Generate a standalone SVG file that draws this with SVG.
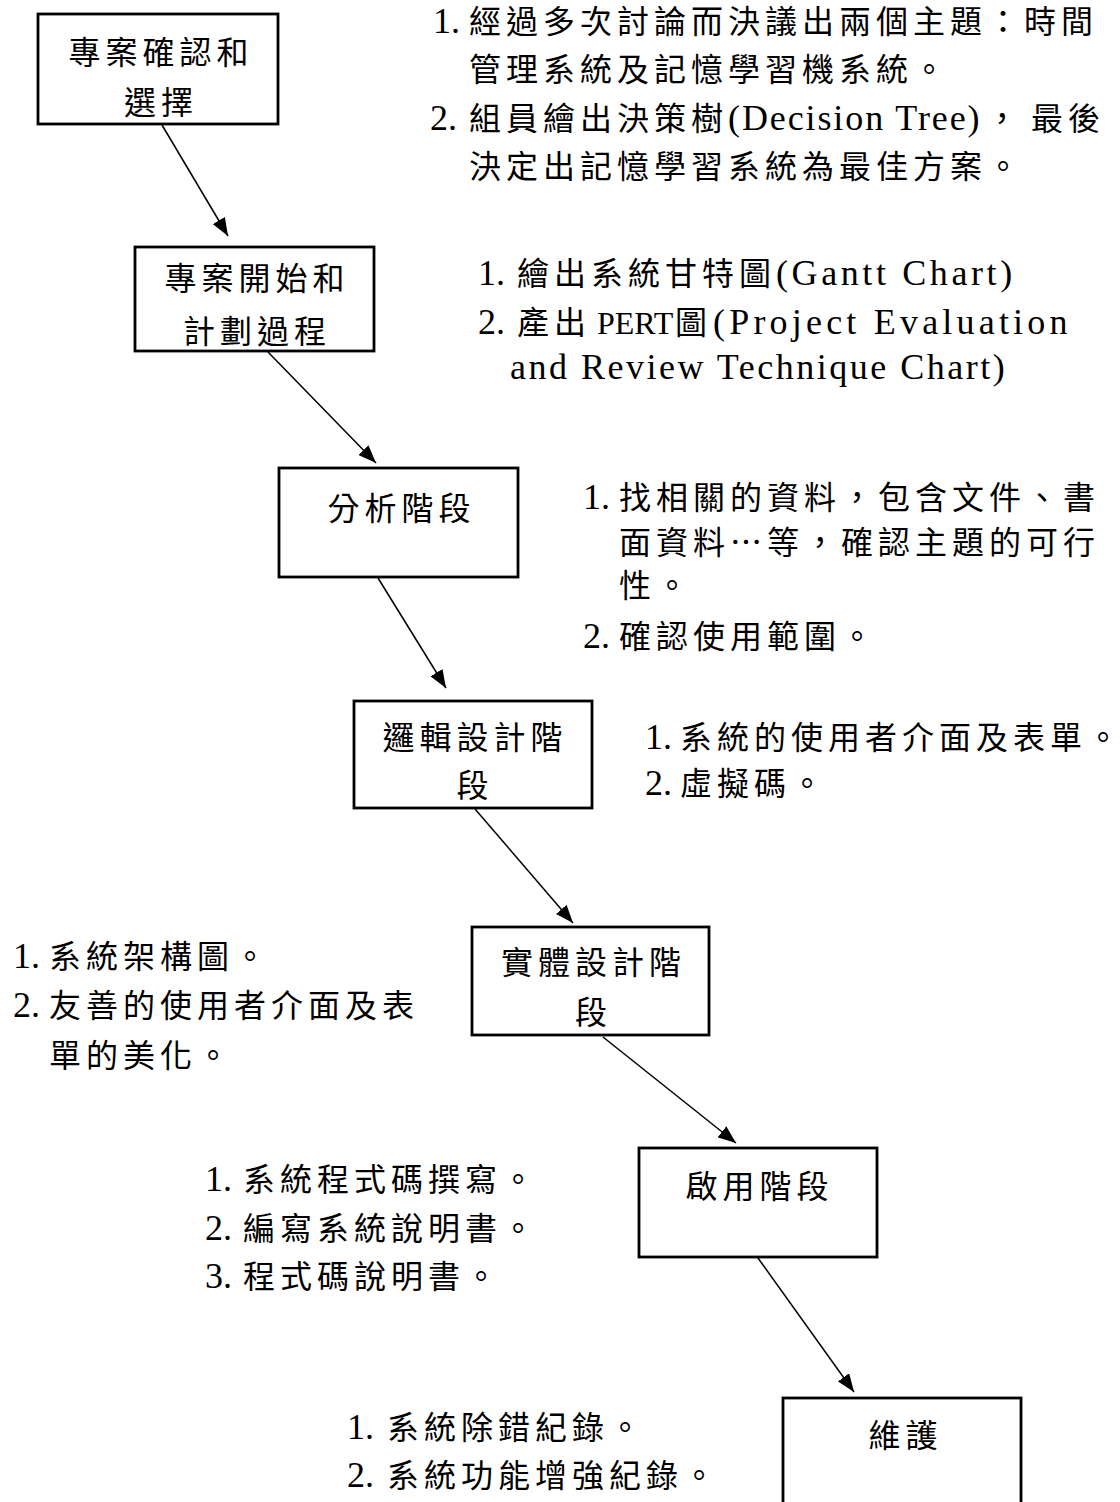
<svg xmlns="http://www.w3.org/2000/svg" width="1120" height="1502" viewBox="0 0 1120 1502">
<style>
.bg{fill:#fff}
.box{fill:#fff;stroke:#000;stroke-width:2.8}
.edge{fill:none;stroke:#000;stroke-width:1.5}
.c{font-family:"Liberation Serif","Noto Sans CJK TC",serif;font-size:32px;letter-spacing:5px;fill:#000}
.m{text-anchor:middle}
.n{font-size:36px;letter-spacing:0}
.k{font-family:"Noto Sans CJK TC",sans-serif}
</style>
<defs>
<marker id="ah" markerUnits="userSpaceOnUse" markerWidth="18" markerHeight="14" refX="18" refY="7" orient="auto">
<path d="M0,0 L18,7 L0,14 z" fill="#000"/>
</marker>
</defs>
<rect class="bg" x="0" y="0" width="1120" height="1502"/>

<g id="connectors">
<line class="edge" x1="162" y1="125" x2="228" y2="236" marker-end="url(#ah)"/>
<line class="edge" x1="268" y1="352" x2="376" y2="463" marker-end="url(#ah)"/>
<line class="edge" x1="378" y1="578" x2="446" y2="688" marker-end="url(#ah)"/>
<line class="edge" x1="475" y1="809" x2="573" y2="923" marker-end="url(#ah)"/>
<line class="edge" x1="603" y1="1037" x2="736" y2="1143" marker-end="url(#ah)"/>
<line class="edge" x1="758" y1="1258" x2="854" y2="1392" marker-end="url(#ah)"/>
</g>

<g id="node1">
<rect class="box" x="38" y="14" width="240" height="110"/>
<text class="c m" x="161" y="64">專案確認和</text>
<text class="c m" x="161" y="114">選擇</text>
</g>
<g id="node2">
<rect class="box" x="135" y="247" width="239" height="104"/>
<text class="c m" x="257" y="290">專案開始和</text>
<text class="c m" x="257" y="343">計劃過程</text>
</g>
<g id="node3">
<rect class="box" x="279" y="468" width="239" height="109"/>
<text class="c m" x="401.5" y="520">分析階段</text>
</g>
<g id="node4">
<rect class="box" x="354" y="701" width="238" height="107"/>
<text class="c m" x="475" y="749">邏輯設計階</text>
<text class="c m" x="475" y="797">段</text>
</g>
<g id="node5">
<rect class="box" x="472" y="927" width="237" height="108"/>
<text class="c m" x="593.5" y="974">實體設計階</text>
<text class="c m" x="593.5" y="1024">段</text>
</g>
<g id="node6">
<rect class="box" x="639" y="1148" width="238" height="109"/>
<text class="c m" x="759.5" y="1198">啟用階段</text>
</g>
<g id="node7">
<rect class="box" x="783" y="1398" width="238" height="130"/>
<text class="c m" x="905.5" y="1447">維護</text>
</g>

<g id="note1">
<text class="c" y="33"><tspan class="n" x="433">1.</tspan><tspan x="469">經過多次討論而決議出兩個主題：時間</tspan></text>
<text class="c" y="81"><tspan x="469">管理系統及記憶學習機系統。</tspan></text>
<text class="c" y="130"><tspan class="n" x="430">2.</tspan><tspan x="469">組員繪出決策樹</tspan><tspan class="n" x="728" style="letter-spacing:1.9px">(Decision Tree)</tspan><tspan x="986">，</tspan><tspan x="1031">最後</tspan></text>
<text class="c" y="178"><tspan x="469">決定出記憶學習系統為最佳方案。</tspan></text>
</g>
<g id="note2">
<text class="c" y="285"><tspan class="n" x="478">1.</tspan><tspan x="517">繪出系統甘特圖</tspan><tspan class="n" x="776" style="letter-spacing:3.6px">(Gantt Chart)</tspan></text>
<text class="c" y="334"><tspan class="n" x="478">2.</tspan><tspan x="517">產出</tspan><tspan class="n" x="597" style="font-size:32px">PERT</tspan><tspan x="675">圖</tspan><tspan class="n" x="713" style="letter-spacing:4.2px">(Project Evaluation</tspan></text>
<text class="c" y="379"><tspan class="n" x="510" style="letter-spacing:2.5px">and Review Technique Chart)</tspan></text>
</g>
<g id="note3">
<text class="c" y="509"><tspan class="n" x="583">1.</tspan><tspan x="619">找相關的資料，包含文件、書</tspan></text>
<text class="c" y="554"><tspan x="619">面資料<tspan class="k">…</tspan>等，確認主題的可行</tspan></text>
<text class="c" y="597"><tspan x="619">性。</tspan></text>
<text class="c" y="648"><tspan class="n" x="583">2.</tspan><tspan x="619">確認使用範圍。</tspan></text>
</g>
<g id="note4">
<text class="c" y="749"><tspan class="n" x="645">1.</tspan><tspan x="680">系統的使用者介面及表單<tspan style="letter-spacing:0">。</tspan></tspan></text>
<text class="c" y="795"><tspan class="n" x="645">2.</tspan><tspan x="680">虛擬碼。</tspan></text>
</g>
<g id="note5">
<text class="c" y="968"><tspan class="n" x="13">1.</tspan><tspan x="49">系統架構圖。</tspan></text>
<text class="c" y="1017"><tspan class="n" x="13">2.</tspan><tspan x="49">友善的使用者介面及表</tspan></text>
<text class="c" y="1067"><tspan x="49">單的美化。</tspan></text>
</g>
<g id="note6">
<text class="c" y="1191"><tspan class="n" x="205">1.</tspan><tspan x="243">系統程式碼撰寫。</tspan></text>
<text class="c" y="1240"><tspan class="n" x="205">2.</tspan><tspan x="243">編寫系統說明書。</tspan></text>
<text class="c" y="1288"><tspan class="n" x="205">3.</tspan><tspan x="243">程式碼說明書。</tspan></text>
</g>
<g id="note7">
<text class="c" y="1439"><tspan class="n" x="347">1.</tspan><tspan x="387">系統除錯紀錄。</tspan></text>
<text class="c" y="1487"><tspan class="n" x="347">2.</tspan><tspan x="387">系統功能增強紀錄。</tspan></text>
</g>
</svg>
